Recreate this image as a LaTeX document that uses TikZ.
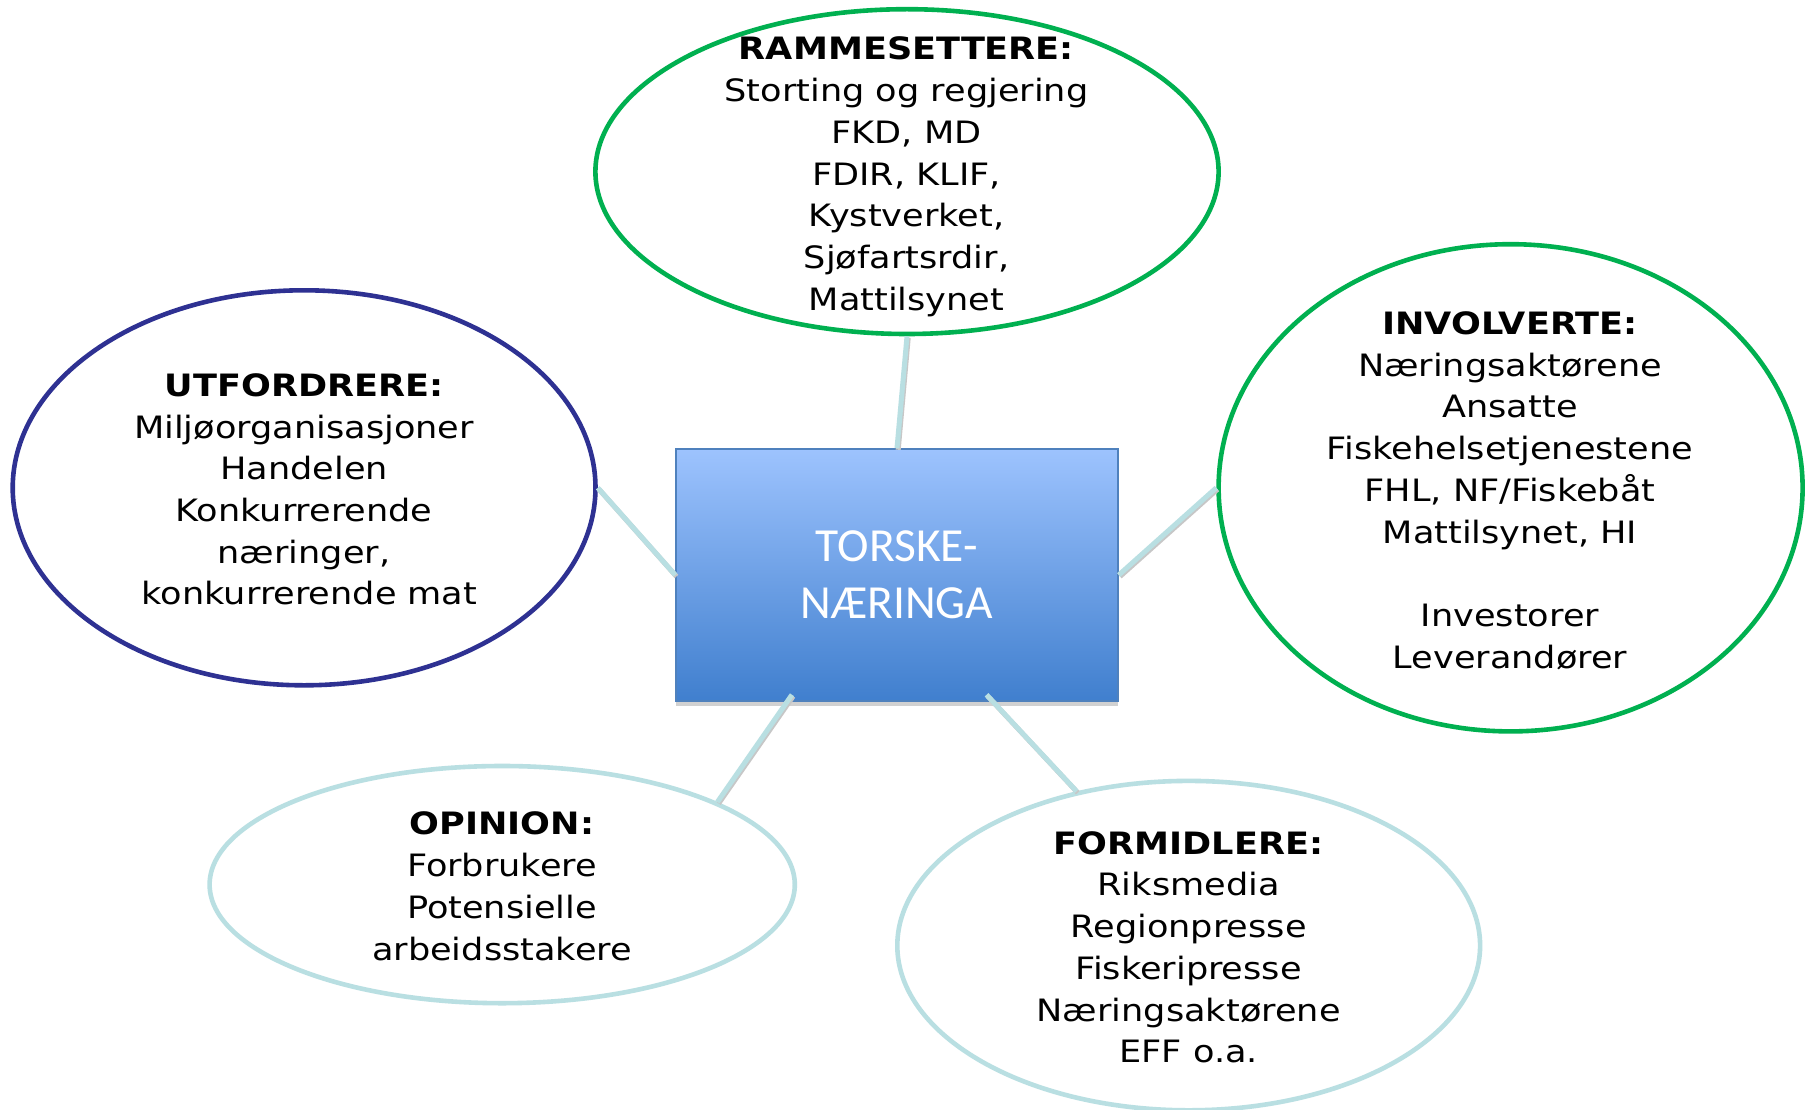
\documentclass[tikz,border=0pt]{standalone}
\usepackage{fontspec}
\setmainfont{DejaVu Sans}[FakeStretch=1.14]
\newfontfamily\calib{Carlito}
\usetikzlibrary{shapes.geometric,shadows}
\definecolor{grn}{RGB}{0,176,80}
\definecolor{navy}{RGB}{46,49,146}
\definecolor{lblue}{RGB}{185,223,226}
\definecolor{boxtop}{RGB}{157,195,254}
\definecolor{boxbot}{RGB}{64,127,206}
\definecolor{boxedge}{RGB}{79,129,189}
\begin{document}
\begin{tikzpicture}[x=1pt,y=-1pt,
  ell/.style={ellipse, line width=4.6pt, inner sep=0pt},
  lbl/.style={align=center, font=\fontsize{30.8}{41.7}\selectfont, inner sep=0pt},
  conn/.style={line width=5pt, draw=lblue, preaction={draw=black!22, line width=5pt, transform canvas={xshift=1.2pt,yshift=-1.5pt}}},
  centerbox/.style={draw=boxedge, line width=1.5pt, top color=boxtop, bottom color=boxbot,
    minimum width=442pt, minimum height=252pt, inner sep=0pt,
    drop shadow={shadow xshift=0pt, shadow yshift=-5pt, fill=black, opacity=0.18},
    font=\calib\fontsize{47.5}{57}\selectfont, text=white, align=center}
]
\useasboundingbox (0,0) rectangle (1806,1110);
\fill[white] (0,0) rectangle (1806,1110);

\node[ell, draw=grn, minimum width=623.2pt, minimum height=324.8pt] (ram) at (907,171.6) {};
\node[ell, draw=navy, minimum width=582.8pt, minimum height=395pt] (utf) at (304.1,487.8) {};
\node[ell, draw=grn, minimum width=584pt, minimum height=487.2pt] (inv) at (1510.6,487.8) {};
\node[ell, draw=lblue, minimum width=585.2pt, minimum height=237.2pt] (opi) at (502.2,884.6) {};
\node[ell, draw=lblue, minimum width=582.8pt, minimum height=329.4pt] (for) at (1188.7,945.6) {};

\node[centerbox] (tor) at (897,575) {TORSKE-\\NÆRINGA};

\node[lbl] (ramT) at (906.5,176.8) {\textbf{RAMMESETTERE:}\\Storting og regjering\\FKD, MD\\FDIR, KLIF,\\Kystverket,\\Sjøfartsrdir,\\Mattilsynet};
\node[lbl] (utfT) at (304,489.5) {\textbf{UTFORDRERE:}\\Miljøorganisasjoner\\Handelen\\Konkurrerende\\næringer,\\\ konkurrerende mat};
\node[lbl] (invT) at (1510,490.6) {\textbf{INVOLVERTE:}\\Næringsaktørene\\Ansatte\\Fiskehelsetjenestene\\FHL, NF/Fiskebåt\\Mattilsynet, HI\\[41.7pt]Investorer\\Leverandører};
\node[lbl] (opiT) at (502,886.3) {\textbf{OPINION:}\\Forbrukere\\Potensielle\\arbeidsstakere};
\node[lbl] (forT) at (1188.6,947.3) {\textbf{FORMIDLERE:}\\Riksmedia\\Regionpresse\\Fiskeripresse\\Næringsaktørene\\EFF o.a.};

\draw[conn] (ram.south) -- (tor.north);
\draw[conn] (utf.east) -- (tor.west);
\draw[conn] (inv.west) -- (tor.east);
\draw[conn] ([xshift=116.7pt,yshift=7pt]tor.south west) -- (opi.21.6);
\draw[conn] ([xshift=311.3pt,yshift=7pt]tor.south west) -- (for.126.6);
\end{tikzpicture}
\end{document}
